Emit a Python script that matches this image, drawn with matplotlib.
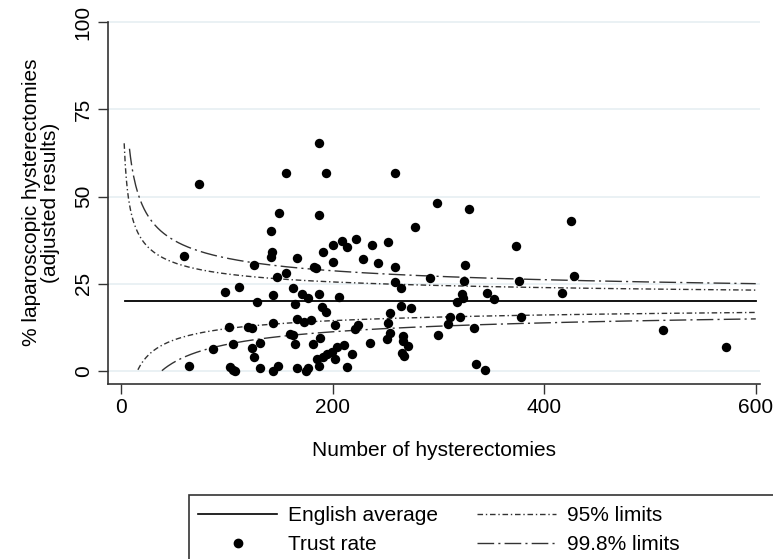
import numpy as np
import matplotlib
matplotlib.use("Agg")
import matplotlib.pyplot as plt
from matplotlib.lines import Line2D
from matplotlib.patches import Rectangle

plt.rcParams['font.family'] = ['Liberation Sans', 'DejaVu Sans']

# Trust data : number of hysterectomies and adjusted % laparoscopic
n_hyst = [59.1, 73.3, 64.7, 97.9, 111.2, 86.5, 101.7, 105.5, 102.6, 105.5,
          107.4, 119.7, 123.5, 125.4, 128.3, 123.5, 131.1, 125.4, 131.1, 141.5,
          142.5, 141.5, 149.1, 155.7, 143.4, 143.4, 147.2, 155.7, 143.4, 148.2,
          162.4, 164.3, 166.2, 166.2, 162.4, 164.3, 166.2, 187.0, 193.6, 259.0,
          298.9, 187.0, 278.0, 208.8, 200.3, 213.6, 222.1, 190.8, 237.2, 252.4,
          228.7, 242.9, 200.3, 182.3, 184.2, 259.0, 292.2, 259.0, 264.7, 170.9,
          176.6, 187.0, 206.0, 189.9, 193.6, 264.7, 274.2, 254.3, 172.8, 179.4,
          202.2, 224.0, 221.1, 252.4, 159.5, 254.3, 266.6, 299.8, 187.9, 181.3,
          235.3, 251.5, 266.6, 271.4, 210.7, 204.1, 199.3, 194.6, 190.8, 185.1,
          202.2, 218.3, 265.7, 267.6, 174.7, 176.6, 187.0, 213.6, 329.2, 424.9,
          373.7, 325.4, 324.4, 376.6, 427.8, 416.4, 322.6, 323.5, 317.8, 346.3,
          352.9, 311.2, 320.7, 378.5, 309.3, 333.9, 512.1, 571.8, 335.8, 344.4]
pct_lap = [33.1, 53.5, 1.4, 22.7, 24.1, 6.3, 12.6, 7.7, 1.1, 0.2,
           0.0, 12.6, 12.3, 30.5, 19.8, 6.5, 8.0, 4.0, 0.8, 40.0,
           34.2, 32.8, 45.2, 56.7, 21.8, 13.7, 27.0, 28.2, 0.0, 1.6,
           23.8, 19.2, 32.5, 14.9, 10.3, 7.7, 0.8, 65.3, 56.7, 56.7,
           48.1, 44.6, 41.4, 37.4, 36.2, 35.6, 37.7, 34.2, 36.2, 37.1,
           32.2, 31.0, 31.3, 29.9, 29.6, 29.9, 26.7, 25.6, 23.8, 22.1,
           21.0, 22.1, 21.2, 18.4, 16.9, 18.7, 18.1, 16.6, 14.0, 14.6,
           13.2, 13.2, 12.0, 13.8, 10.6, 10.9, 10.0, 10.3, 9.4, 7.7,
           8.0, 9.1, 8.6, 7.1, 7.4, 6.8, 5.4, 4.8, 3.9, 3.4,
           3.4, 4.8, 5.1, 4.2, 0.0, 0.8, 1.4, 1.1, 46.3, 42.9,
           35.9, 30.5, 25.9, 25.9, 27.3, 22.4, 22.1, 21.0, 19.8, 22.4,
           20.7, 15.5, 15.5, 15.5, 13.5, 12.3, 11.7, 6.8, 1.9, 0.2]

english_avg = 20.0   # %
z95 = 1.96
z998 = 3.09
n_max = 600

####################################### funnel limits #######################################
p = english_avg / 100.0
n95 = np.linspace(3, n_max, 600)
n998 = np.linspace(8, n_max, 600)
se95 = np.sqrt(p * (1 - p) / n95) * 100
se998 = np.sqrt(p * (1 - p) / n998) * 100
up95 = english_avg + z95 * se95
lo95 = english_avg - z95 * se95
up998 = english_avg + z998 * se998
lo998 = english_avg - z998 * se998
lo95 = np.where(lo95 >= 0, lo95, np.nan)
lo998 = np.where(lo998 >= 0, lo998, np.nan)

fs = 15

fig = plt.figure(figsize=(7.73, 5.59), dpi=100)
ax = fig.add_axes([108 / 773, 1 - 384 / 559, (760 - 108) / 773, (384 - 21) / 559])

style95 = dict(color="#333333", lw=1.0, dashes=(4, 2, 1, 2))
style998 = dict(color="#333333", lw=1.0, dashes=(12, 3, 1.5, 3))

ax.plot([4, n_max], [english_avg, english_avg], color="black", lw=1.3)
ax.plot(n95, up95, **style95)
ax.plot(n95, lo95, **style95)
ax.plot(n998, up998, **style998)
ax.plot(n998, lo998, **style998)
ax.scatter(n_hyst, pct_lap, s=46, color="black", zorder=3, linewidths=0)

ax.set_xlim(-12.3, 604)
ax.set_ylim(-3.7, 100.3)
ax.set_xticks([0, 200, 400, 600])
ax.set_yticks([0, 25, 50, 75, 100])
ax.yaxis.grid(True, color="#e6eff2", lw=1.2)
ax.set_axisbelow(True)
for s in ["top", "right"]:
    ax.spines[s].set_visible(False)
for s in ["left", "bottom"]:
    ax.spines[s].set_color("#333333")
    ax.spines[s].set_linewidth(1.2)
ax.spines["left"].set_bounds(-3.7, 100)
ax.tick_params(axis="both", length=7, width=1, color="#333333", labelsize=fs)
ax.tick_params(axis="x", pad=3)
ax.tick_params(axis="y", pad=4)
plt.setp(ax.get_yticklabels(), rotation=90, va="center")

ax.set_xlabel("Number of hysterectomies", fontsize=fs, labelpad=17)
ax.set_ylabel("% laparoscopic hysterectomies\n(adjusted results)", fontsize=fs,
              labelpad=10, linespacing=1.0)

####################################### legend #######################################
h_avg = Line2D([], [], color="black", lw=1.2)
h_pt = Line2D([], [], color="black", marker="o", ls="none", markersize=6)
h95 = Line2D([], [], **style95)
h998 = Line2D([], [], **style998)
fig.legend([h_avg, h_pt, h95, h998],
           ["English average", "Trust rate", "95% limits", "99.8% limits"],
           ncol=2, loc="upper left", bbox_to_anchor=(198 / 773, 1 - 506 / 559),
           frameon=False, fontsize=fs, handlelength=3.8, handletextpad=0.5,
           columnspacing=1.9, labelspacing=0.5, borderaxespad=0, borderpad=0)
fig.patches.append(Rectangle((189 / 773, -0.05), 0.8, 1 - 495 / 559 + 0.05,
                             transform=fig.transFigure, fill=False,
                             edgecolor="#333333", lw=1.2))

fig.savefig("out.png", dpi=100)
